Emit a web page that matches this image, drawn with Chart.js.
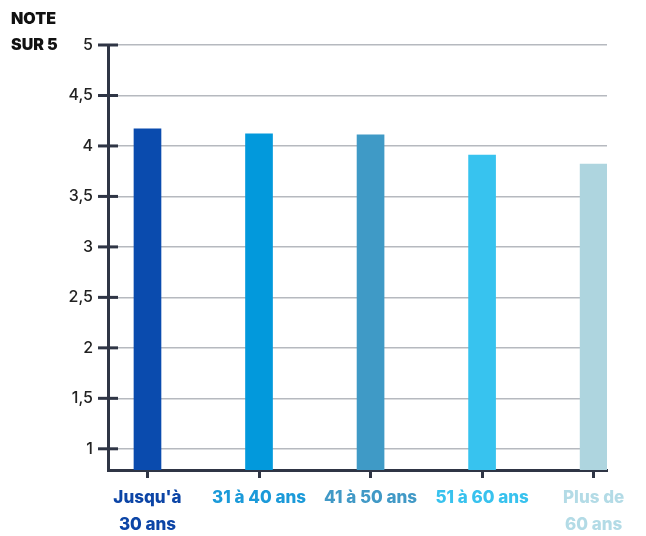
<!DOCTYPE html>
<html>
<head>
<meta charset="utf-8">
<script src="https://cdn.jsdelivr.net/npm/chart.js@4"></script>
<style>
  html, body { margin: 0; padding: 0; background: #fff; }
  #wrap { width: 646px; height: 536px; position: relative; }
</style>
</head>
<body>
<div id="wrap"><canvas id="noteChart"></canvas></div>
<script>
// tranches d'âge et notes moyennes (sur 5)
const categories = [["Jusqu'à", "30 ans"], "31 à 40 ans", "41 à 50 ans", "51 à 60 ans", ["Plus de", "60 ans"]];
const notes = [4.17, 4.12, 4.11, 3.91, 3.82];
const barColors = ["#0a4bae", "#0299dc", "#3f9ac6", "#37c3ef", "#aed5df"];
const labelColors = ["#0c45a6", "#1b9ad9", "#4199c6", "#38c2ee", "#b3dbe6"];
const yTicks = [1, 1.5, 2, 2.5, 3, 3.5, 4, 4.5, 5];

const dark = "#2f3545";
const fontFam = "Inter, 'Noto Sans', sans-serif";

// petits traits du axe Y qui traversent l'axe + titre
const tickCross = {
    id: "tickCross",
    afterDraw(chart) {
        const c = chart.ctx;
        const y = chart.scales.y;
        c.save();
        c.strokeStyle = dark;
        c.lineWidth = 3;
        y.ticks.forEach((t) => {
            const py = y.getPixelForValue(t.value);
            c.beginPath();
            c.moveTo(y.right - 10, py);
            c.lineTo(y.right + 10, py);
            c.stroke();
        });
        c.fillStyle = "#111";
        c.font = "900 16px " + fontFam;
        c.textBaseline = "middle";
        c.textAlign = "left";
        c.fillText("NOTE", 11, 19);
        c.fillText("SUR 5", 11, y.getPixelForValue(5));
        c.restore();
    },
};

const ctx = document.getElementById("noteChart").getContext("2d");
new Chart(ctx, {
    type: "bar",
    data: {
        datasets: [
            {
                data: notes.map((v, i) => ({ x: i, y: v })),
                backgroundColor: barColors,
                barThickness: 27,
                borderWidth: 0,
            },
        ],
    },
    options: {
        responsive: true,
        maintainAspectRatio: false,
        animation: false,
        layout: { padding: { top: 45, right: 39, left: 0, bottom: 0 } },
        plugins: {
            legend: { display: false },
            tooltip: { enabled: false },
        },
        scales: {
            x: {
                type: "linear",
                offset: false,
                min: -0.354,
                max: 4.12,
                afterBuildTicks: (axis) => {
                    axis.ticks = categories.map((_, i) => ({ value: i }));
                },
                afterFit: (scale) => {
                    scale.height = 66;
                },
                border: { color: dark, width: 3 },
                grid: {
                    offset: false,
                    drawOnChartArea: false,
                    drawTicks: true,
                    tickLength: 8,
                    tickWidth: 3,
                    tickColor: dark,
                },
                ticks: {
                    padding: 6,
                    maxRotation: 0,
                    autoSkip: false,
                    color: (c) => labelColors[c.index],
                    font: { family: fontFam, size: 17, weight: "800", lineHeight: 1.6 },
                    callback: (v) => categories[v],
                },
            },
            y: {
                min: 0.79,
                max: 5,
                afterBuildTicks: (axis) => {
                    axis.ticks = yTicks.map((v) => ({ value: v }));
                },
                afterFit: (scale) => {
                    scale.width = 108;
                },
                border: { color: dark, width: 3 },
                grid: {
                    color: "#b6b9bf",
                    lineWidth: 1.5,
                    drawTicks: false,
                },
                ticks: {
                    padding: 15,
                    color: "#222",
                    font: { family: fontFam, size: 16, weight: "500" },
                    callback: (v) => String(v).replace(".", ","),
                },
            },
        },
    },
    plugins: [tickCross],
});
</script>
</body>
</html>
